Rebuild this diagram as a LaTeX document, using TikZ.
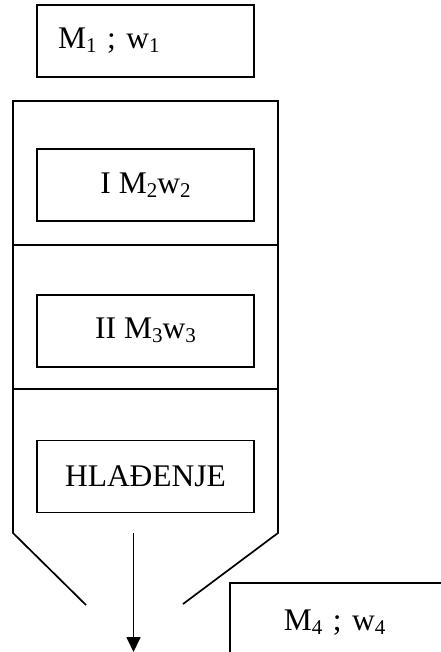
\documentclass[tikz,border=0pt]{standalone}
\usepackage{fontspec}
\setmainfont{Liberation Serif}
\usetikzlibrary{positioning,arrows.meta}
\newcommand{\ind}[1]{\raisebox{-0.13em}{\fontsize{21}{21}\selectfont #1}}

\begin{document}
\begin{tikzpicture}[x=1pt, y=-1pt, line width=1.7pt,
    kutija/.style={draw, rectangle, minimum width=217pt, minimum height=72pt,
      inner sep=0pt, font=\fontsize{31.5}{36}\selectfont}]
        \useasboundingbox (0,0) rectangle (440,652);
        % Ulaz
        \node[kutija, text width=175pt, align=left, inner xsep=21pt] (m1) at (145.5,41) {M\ind{1} ; w\ind{1}};
        % Kolona sa tri zone
        \def\xL{13}
        \def\xR{278}
        \coordinate (tL) at (\xL,101);
        \coordinate (tR) at (\xR,101);
        \coordinate (kL) at (\xL,533);
        \coordinate (kR) at (\xR,533);
        \coordinate (dL) at (86,605);
        \coordinate (dR) at (183,604);
        \draw (dL) -- (kL) -- (tL) -- (tR) -- (kR) -- (dR);
        \draw (\xL,245) coordinate (s1L) -- (\xR,245) coordinate (s1R);
        \draw (\xL,389) coordinate (s2L) -- (\xR,389) coordinate (s2R);
        \node[kutija] (z1) at (145.5,185) {I M\ind{2}w\ind{2}};
        \node[kutija, below=72pt of z1] (z2) {II M\ind{3}w\ind{3}};
        \node[kutija, below=72pt of z2] (z3) {HLAĐENJE};
        % Izlaz
        \coordinate (a1) at (133.5,533);
        \coordinate (a2) at (133.5,652);
        \draw[-{Triangle[length=15pt,width=14pt]}] (a1) -- (a2);
        \node[kutija, anchor=north west, minimum width=240pt, minimum height=80pt,
          text width=132pt, align=left, inner xsep=54pt] (m4) at (229,582) {M\ind{4} ; w\ind{4}};
    \end{tikzpicture}
\end{document}
